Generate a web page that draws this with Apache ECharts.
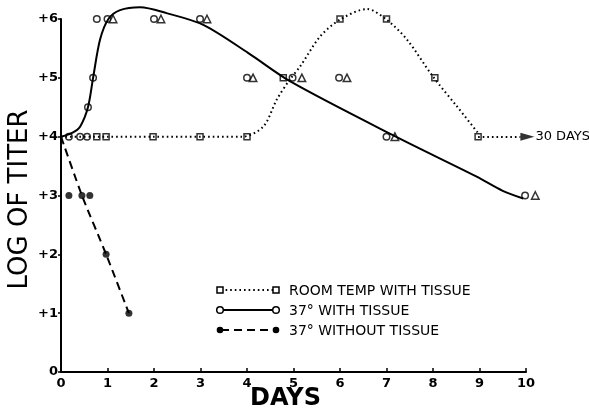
<!DOCTYPE html>
<html>
<head>
<meta charset="utf-8">
<style>
  html, body { margin: 0; padding: 0; background: #fff; }
  #main { width: 589px; height: 412px; }
</style>
<script src="https://cdn.jsdelivr.net/npm/echarts@6/dist/echarts.min.js"></script>
</head>
<body>
<div id="main"></div>
<script>
var roomDays  = [0.77, 0.97, 1.98, 2.99, 4.0, 4.78, 6.0, 7.0, 8.04, 8.97];
var roomTiter = [4, 4, 4, 4, 4, 5, 6, 6, 5, 4];

var warmDays  = [0.17, 0.41, 0.56, 0.58, 0.69, 0.77, 1.0, 2.0, 2.99, 4.0, 4.98, 5.98, 7.0, 9.98];
var warmTiter = [4, 4, 4, 4.5, 5, 6, 6, 6, 6, 5, 5, 5, 4, 3];

var triDays  = [1.12, 2.15, 3.14, 4.13, 5.18, 6.15, 7.18, 10.2];
var triTiter = [6, 6, 6, 5, 5, 5, 4, 3];

var coldDays  = [0.17, 0.45, 0.62, 0.97, 1.46];
var coldTiter = [3, 3, 3, 2, 1];

// hand drawn curves through the points
var roomCurveX = [0, 1, 2, 3, 3.9, 4.35, 4.64, 4.92, 5.14, 5.57, 6.0, 6.58, 7.0, 7.44, 8.0, 8.52, 8.97];
var roomCurveY = [4, 4, 4, 4, 4, 4.17, 4.63, 4.97, 5.19, 5.7, 5.99, 6.17, 5.99, 5.65, 5.02, 4.51, 4.06];

var warmCurveX = [0, 0.25, 0.41, 0.58, 0.69, 0.84, 1.02, 1.27, 1.7, 2.27, 3.06, 4.03, 4.95, 7.2, 8.94, 9.5, 9.94];
var warmCurveY = [4, 4.07, 4.17, 4.5, 5.0, 5.65, 6.0, 6.15, 6.2, 6.1, 5.9, 5.42, 4.93, 4.0, 3.32, 3.08, 2.95];

var coldCurveX = [0, 0.45, 0.97, 1.46];
var coldCurveY = [4, 3, 2, 1];

// "-> 30 DAYS" continuation
var arrowFrom = 8.97, arrowTo = 9.88, arrowTip = 10.03, arrowLevel = 4;

var dayTicks = [0, 1, 2, 3, 4, 5, 6, 7, 8, 9, 10];
var titerLabels = ['0', '+1', '+2', '+3', '+4', '+5', '+6'];

var legendNames = ['ROOM TEMP WITH TISSUE', '37° WITH TISSUE', '37° WITHOUT TISSUE'];

function zip(xs, ys) {
    return xs.map(function (x, i) { return [x, ys[i]]; });
}

var font = 'DejaVu Sans';
var dotted = [1.6, 3];
var dashed = [8, 5];

var myChart = echarts.init(document.getElementById('main'));

var openStyle = { color: '#fff', borderColor: '#000', borderWidth: 1.5 };

function legendRow(y, symbol, lineType, text) {
    var mk = function (cx) {
        if (symbol === 'rect') {
            return { type: 'rect', shape: { x: cx - 3, y: y - 3, width: 6, height: 6 },
                     style: { fill: '#fff', stroke: '#000', lineWidth: 1.5 } };
        }
        return { type: 'circle', shape: { cx: cx, cy: y, r: 3.3 },
                 style: symbol === 'fill' ? { fill: '#000' } : { fill: '#fff', stroke: '#000', lineWidth: 1.5 } };
    };
    return [
        { type: 'line', shape: { x1: 221, y1: y, x2: 274, y2: y },
          style: { stroke: '#000', lineWidth: 2, lineDash: lineType } },
        mk(220), mk(276),
        { type: 'text', x: 289, y: y + 1, style: { text: text, fill: '#000', font: '14px ' + font, verticalAlign: 'middle' } }
    ];
}

var option = {
    animation: false,
    backgroundColor: '#fff',
    grid: { left: 61, right: 63, top: 19, bottom: 40, containLabel: false, outerBoundsMode: 'none' },
    xAxis: {
        type: 'value', min: 0, max: 10, interval: 1,
        name: 'DAYS', nameLocation: 'middle', nameGap: 15, nameMoveOverlap: false,
        nameTextStyle: { color: '#000', fontSize: 24, fontWeight: 'bold', fontFamily: font, padding: [0, 16, 0, 0] },
        axisLine: { lineStyle: { color: '#000', width: 2 } },
        axisTick: { inside: true, length: 4, lineStyle: { color: '#000', width: 1.5 } },
        axisLabel: { color: '#000', fontSize: 13, fontWeight: 'bold', fontFamily: font, margin: 5,
                     formatter: function (v) { return dayTicks.indexOf(v) >= 0 ? String(v) : ''; } },
        splitLine: { show: false }
    },
    yAxis: {
        type: 'value', min: 0, max: 6, interval: 1,
        name: 'LOG OF TITER', nameLocation: 'middle', nameGap: 28, nameMoveOverlap: false,
        nameTextStyle: { color: '#000', fontSize: 26, fontFamily: font, padding: [0, 8, 0, 0] },
        axisLine: { show: true, lineStyle: { color: '#000', width: 2 } },
        axisTick: { show: true, length: 3, lineStyle: { color: '#000', width: 1.5 } },
        axisLabel: { color: '#000', fontSize: 13, fontWeight: 'bold', fontFamily: font, margin: 3,
                     formatter: function (v) { return titerLabels[v]; } },
        splitLine: { show: false }
    },
    series: [
        { type: 'line', data: zip(roomCurveX, roomCurveY), smooth: 0.3, symbol: 'none', clip: false,
          lineStyle: { color: '#000', width: 2, type: dotted } },
        { type: 'line', data: zip(warmCurveX, warmCurveY), smooth: 0.3, symbol: 'none', clip: false,
          lineStyle: { color: '#000', width: 2 } },
        { type: 'line', data: zip(coldCurveX, coldCurveY), smooth: 0.2, symbol: 'none', clip: false,
          lineStyle: { color: '#000', width: 2, type: dashed } },
        { type: 'line', data: [], symbol: 'none',
          markLine: {
              silent: true, symbol: ['none', 'none'],
              lineStyle: { color: '#000', width: 2, type: dotted },
              label: { show: true, position: 'end', formatter: '30 DAYS', color: '#000',
                       fontSize: 13, fontFamily: font, distance: 15 },
              data: [[{ coord: [arrowFrom, arrowLevel] }, { coord: [arrowTo, arrowLevel] }]]
          } },
        { type: 'scatter', data: [[arrowTip, arrowLevel]], symbol: 'triangle', symbolRotate: -90,
          symbolSize: [8, 14], clip: false, itemStyle: { color: '#000' } },
        { type: 'scatter', data: zip(roomDays, roomTiter), symbol: 'rect', symbolSize: 6, clip: false,
          itemStyle: openStyle },
        { type: 'scatter', data: zip(warmDays, warmTiter), symbol: 'circle', symbolSize: 6.5, clip: false,
          itemStyle: openStyle },
        { type: 'scatter', data: zip(triDays, triTiter), symbol: 'triangle', symbolSize: 7.5, clip: false,
          itemStyle: openStyle },
        { type: 'scatter', data: zip(coldDays, coldTiter), symbol: 'circle', symbolSize: 7, clip: false,
          itemStyle: { color: '#000' } }
    ],
    graphic: [].concat(
        legendRow(290, 'rect', dotted, legendNames[0]),
        legendRow(310, 'open', null, legendNames[1]),
        legendRow(330, 'fill', dashed, legendNames[2])
    )
};

myChart.setOption(option);
</script>
</body>
</html>
